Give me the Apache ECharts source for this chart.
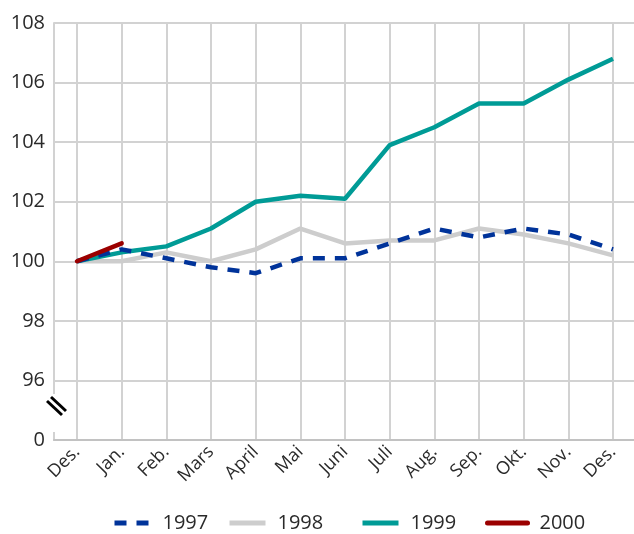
<!DOCTYPE html>
<html><head><meta charset="utf-8">
<script src="https://cdn.jsdelivr.net/npm/echarts@6/dist/echarts.min.js"></script>
<style>html,body{margin:0;padding:0;background:#fff}#c{width:634px;height:534px}</style>
</head><body><div id="c"></div>
<script>
const months = ['Des.','Jan.','Feb.','Mars','April','Mai','Juni','Juli','Aug.','Sep.','Okt.','Nov.','Des.'];
const s1997 = [100,100.4,100.1,99.8,99.6,100.1,100.1,100.6,101.1,100.8,101.1,100.9,100.4];
const s1998 = [100,100.0,100.3,100.0,100.4,101.1,100.6,100.7,100.7,101.1,100.9,100.6,100.2];
const s1999 = [100,100.3,100.5,101.1,102.0,102.2,102.1,103.9,104.5,105.3,105.3,106.1,106.8];
const s2000 = [100,100.6];
const seriesNames = ['1997','1998','1999','2000'];
const yMin = 94, yMax = 108, yStep = 2;
const brokenLabel = '0';

const FONT = "'Open Sans', 'Noto Sans', sans-serif";
const TXT = '#2a2a2a';
const GRIDC = '#d2d2d2';
const legendLeft = [112, 227, 360, 485];

const legends = seriesNames.map((n,i)=>({
  left:legendLeft[i], top:513, padding:0, itemWidth:(i===3?40:36), itemHeight:8,
  itemStyle:{opacity:0}, lineStyle:{width:5},
  textStyle:{fontSize:20,color:TXT,fontFamily:FONT,padding:[0,0,0,7]},
  data:[n]
}));

const chart = echarts.init(document.getElementById('c'), null, {renderer:'canvas'});
chart.setOption({
  animation:false,
  grid:[{left:54,right:0,top:23,bottom:94},{left:77,right:21,top:23,bottom:94}],
  xAxis:[
    {gridIndex:0,type:'value',min:0,max:1,axisLine:{show:true,lineStyle:{color:'#c2c2c2',width:2}},axisTick:{show:false},axisLabel:{show:false},splitLine:{show:false}},
    {gridIndex:1,type:'category',boundaryGap:false,data:months,axisLine:{show:false},axisTick:{show:false},
     axisLabel:{rotate:45,margin:9,fontSize:18,color:TXT,fontFamily:FONT,interval:0},
     splitLine:{show:true,lineStyle:{color:GRIDC,width:2}}}
  ],
  yAxis:[
    {gridIndex:0,type:'value',min:yMin,max:yMax,interval:yStep,
     axisLine:{show:true,lineStyle:{color:GRIDC,width:2}},axisTick:{show:false},
     axisLabel:{margin:9,fontSize:20,color:TXT,fontFamily:FONT,formatter:v=>v===yMin?brokenLabel:String(v)},
     splitLine:{show:true,lineStyle:{color:GRIDC,width:2}}},
    {gridIndex:1,type:'value',min:yMin,max:yMax,show:false}
  ],
  legend:legends,
  series:[
    {name:'1998',type:'line',xAxisIndex:1,yAxisIndex:1,data:s1998,symbol:'none',z:2,lineStyle:{color:'#cdcdcd',width:4.5},itemStyle:{color:'#cdcdcd'}},
    {name:'1999',type:'line',xAxisIndex:1,yAxisIndex:1,data:s1999,symbol:'none',z:3,lineStyle:{color:'#009b96',width:4.5},itemStyle:{color:'#009b96'}},
    {name:'1997',type:'line',xAxisIndex:1,yAxisIndex:1,data:s1997,symbol:'none',z:4,lineStyle:{color:'#00339a',width:4.5,type:[12,10]},itemStyle:{color:'#00339a'}},
    {name:'2000',type:'line',xAxisIndex:1,yAxisIndex:1,data:s2000,symbol:'none',z:5,lineStyle:{color:'#9b0000',width:4.5,cap:'round'},itemStyle:{color:'#9b0000'}}
  ],
  graphic:[
    {type:'rect',z:100,shape:{x:49,y:394,width:10,height:38},style:{fill:'#fff'}},
    {type:'line',z:101,shape:{x1:47,y1:401,x2:62,y2:415},style:{stroke:'#000',lineWidth:3}},
    {type:'line',z:101,shape:{x1:51,y1:397,x2:66,y2:411},style:{stroke:'#000',lineWidth:3}}
  ]
});
</script></body></html>
